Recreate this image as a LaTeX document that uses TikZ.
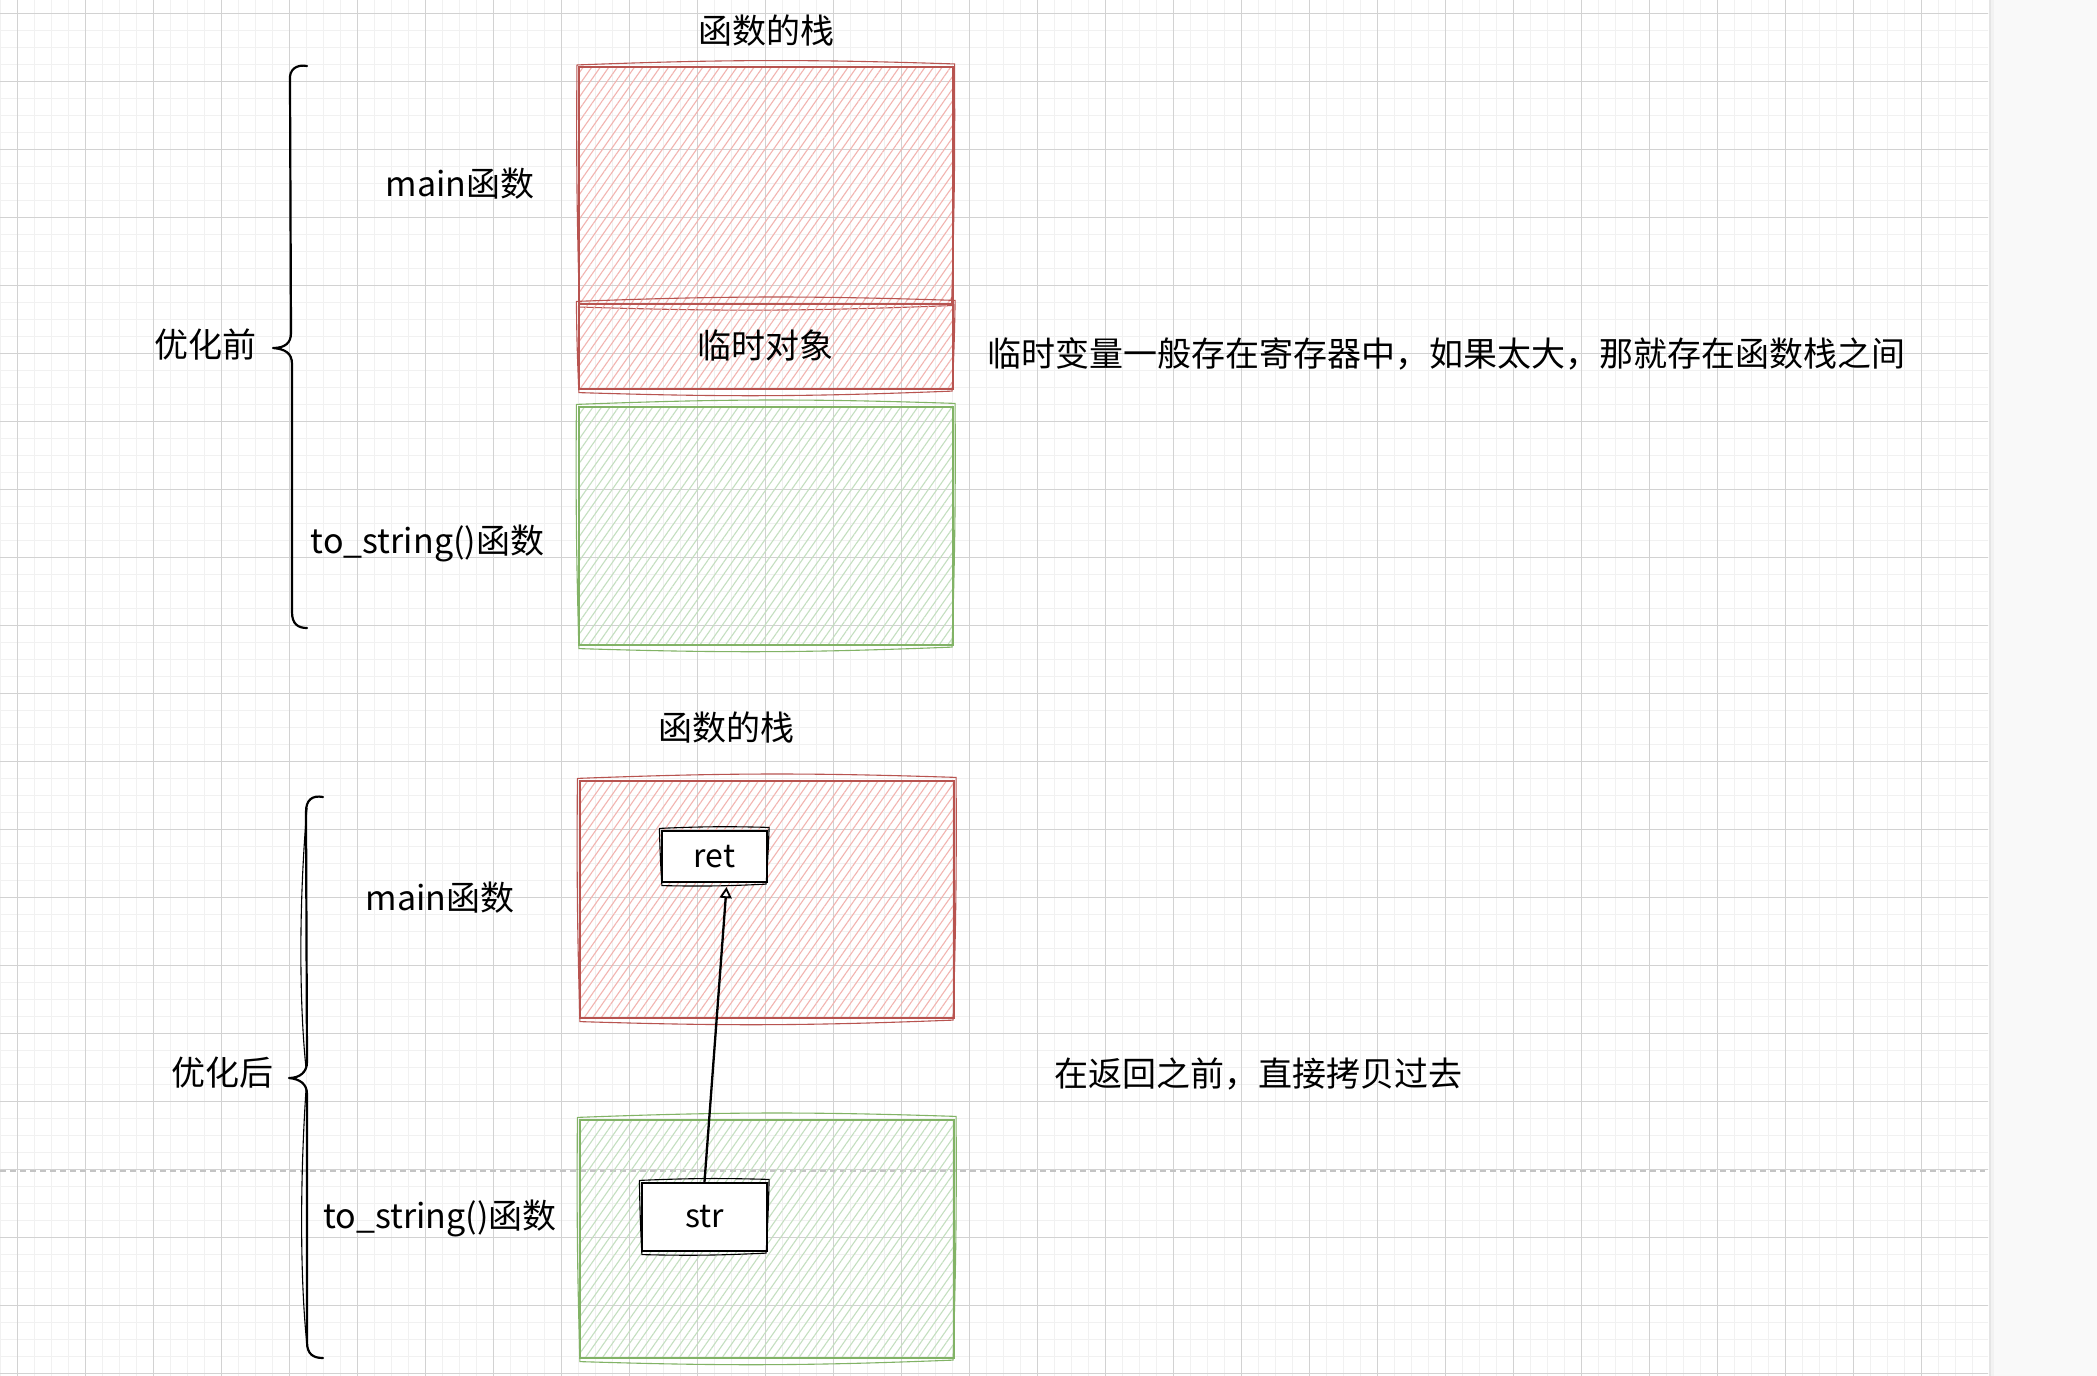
\documentclass[tikz,border=0pt]{standalone}
\usepackage{fontspec}
\setmainfont{Noto Sans CJK SC}
\usetikzlibrary{patterns.meta,arrows.meta,calc}
\definecolor{redS}{HTML}{B85450}
\definecolor{hachR}{HTML}{F2B4B0}
\definecolor{grnS}{HTML}{82B366}
\definecolor{hachG}{HTML}{C4DFC0}
\definecolor{gmaj}{HTML}{D2D2D2}
\definecolor{gmin}{HTML}{F1F1F1}
\definecolor{dashc}{HTML}{C4C4C4}
\definecolor{sidec}{HTML}{F9F9F9}
\newcommand\sketchbox[2]{%
  \draw[#2, line width=1.1pt, line cap=round]
   ([shift={(-1.5pt,1.5pt)}]#1.north west) to[bend left=2] ([shift={(1pt,2.5pt)}]#1.north east)
   to[bend left=1] ([shift={(-2pt,-1pt)}]#1.south east)
   to[bend left=2] ([shift={(1pt,-2.5pt)}]#1.south west)
   to[bend left=1] ([shift={(-1.5pt,1.5pt)}]#1.north west);}
\begin{document}
\begin{tikzpicture}[x=1pt,y=-1pt,
  lbl/.style={font=\fontsize{34}{40}\selectfont, inner sep=0pt, anchor=base},
  redbox/.style={draw=redS, line width=2.2pt, inner sep=0pt,
     pattern={Lines[angle=55,distance=7pt,line width=1.1pt]}, pattern color=hachR},
  grnbox/.style={draw=grnS, line width=2.2pt, inner sep=0pt,
     pattern={Lines[angle=55,distance=7pt,line width=1.1pt]}, pattern color=hachG},
  varbox/.style={draw=black, fill=white, line width=2.2pt, inner sep=0pt,
     font=\fontsize{32}{38}\selectfont},
  bracestyle/.style={draw=black, line width=2.2pt, line cap=round, line join=round},
  conn/.style={draw=black, line width=2.3pt,
     -{Triangle[open,length=11pt,width=12pt,line width=1.8pt]}}
]
% page and side strip
\useasboundingbox (0,0) rectangle (2097,1376);
\fill[white] (0,0) rectangle (1989,1376);
\fill[sidec] (1989,0) rectangle (2097,1376);
\fill[black!10] (1989,0) rectangle (1991,1376);
\fill[black!5] (1991,0) rectangle (1994,1376);
% grid
\begin{scope}
\clip (0,0) rectangle (1988,1376);
\foreach \i in {0,...,117} {\draw[gmin, line width=1.6pt] (0.3+17*\i,0) -- (0.3+17*\i,1376);}
\foreach \j in {1,...,81} {\draw[gmin, line width=1.6pt] (0,-3.7+17*\j) -- (1989,-3.7+17*\j);}
\foreach \i in {0,...,28} {\draw[gmaj, line width=1pt] (17.3+68*\i,0) -- (17.3+68*\i,1376);}
\foreach \j in {0,...,20} {\draw[gmaj, line width=1pt] (0,13.3+68*\j) -- (1989,13.3+68*\j);}
\end{scope}
% page break line
\draw[dashc, line width=1.3pt, dash pattern=on 6pt off 4pt] (0,1171) -- (1985,1171);

% ---------- top part ----------
\node[lbl] (title1) at (766.5,43.5) {函数的栈};
\node[redbox, minimum width=374pt, minimum height=237pt] (mainA) at (766,185.5) {};
\sketchbox{mainA}{redS}
\node[redbox, minimum width=374pt, minimum height=85pt] (tmpA) at (766,346.5) {};
\sketchbox{tmpA}{redS}
\node[lbl] (tmpT) at (765,358) {临时对象};
\node[grnbox, minimum width=374pt, minimum height=238pt] (tsA) at (766,526) {};
\sketchbox{tsA}{grnS}

\draw[bracestyle] (307,66) .. controls (296,64) and (289,70) .. (290,80)
   -- (291,333) .. controls (291,343) and (285,348) .. (273,348)
   .. controls (285,349) and (292,353) .. (292,364)
   -- (292,612) .. controls (292,624) and (298,628) .. (307,628);
\node[lbl] (before) at (205.5,357.5) {优化前};
\node[lbl] (mainLblA) at (460,196) {main函数};
\node[lbl] (tsLblA) at (427.5,553) {to\_string()函数};
\node[lbl] (noteA) at (1446.5,366) {临时变量一般存在寄存器中，如果太大，那就存在函数栈之间};

% ---------- bottom part ----------
\node[lbl] (title2) at (726.5,740) {函数的栈};
\node[redbox, minimum width=374pt, minimum height=237pt] (mainB) at (767,899.5) {};
\sketchbox{mainB}{redS}
\node[grnbox, minimum width=374pt, minimum height=238pt] (tsB) at (767,1239) {};
\sketchbox{tsB}{grnS}
\node[varbox, minimum width=105pt, minimum height=51pt] (ret) at (714.5,856.5) {ret};
\sketchbox{ret}{black}
\node[varbox, minimum width=125pt, minimum height=68pt] (str) at (704.5,1217) {str};
\sketchbox{str}{black}
\draw[conn] (str.north) -- ([xshift=12pt,yshift=-4pt]ret.south);

\draw[bracestyle] (323,797) .. controls (312,795) and (306,800) .. (306,812)
   -- (307,1062) .. controls (307,1072) and (300,1078) .. (289,1078)
   .. controls (300,1079) and (307,1084) .. (307,1094)
   -- (307,1342) .. controls (307,1354) and (313,1358) .. (323,1358);
\draw[black, line width=1.1pt] (307,808) .. controls (299,900) and (299,1000) .. (306,1068);
\draw[black, line width=1.1pt] (306,1090) .. controls (300,1180) and (300,1280) .. (307,1345);
\node[lbl] (after) at (222.5,1085) {优化后};
\node[lbl] (mainLblB) at (440,910) {main函数};
\node[lbl] (tsLblB) at (440,1228) {to\_string()函数};
\node[lbl] (noteB) at (1258.5,1086) {在返回之前，直接拷贝过去};
\end{tikzpicture}
\end{document}
